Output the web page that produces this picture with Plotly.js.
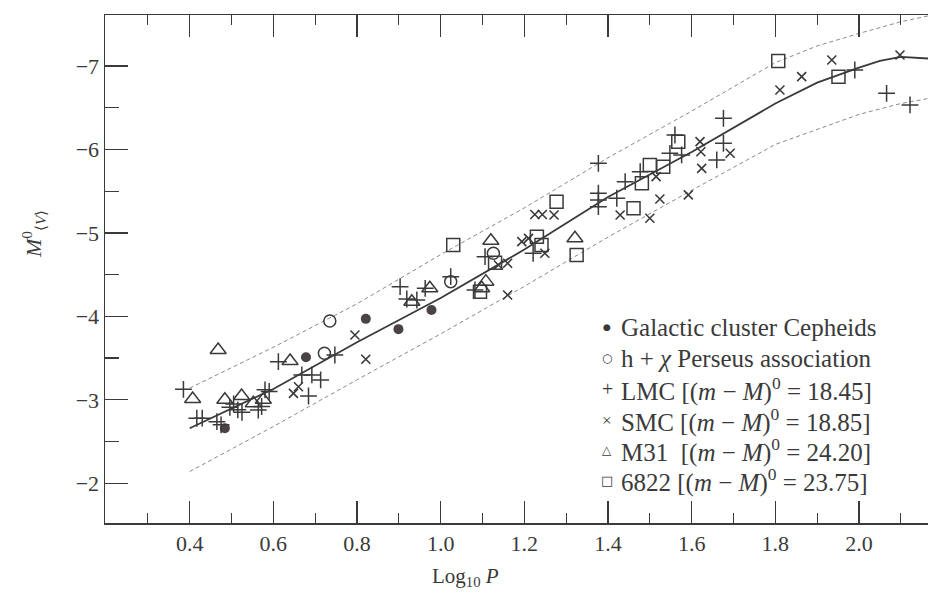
<!DOCTYPE html>
<html>
<head>
<meta charset="utf-8">
<script src="https://cdn.plot.ly/plotly-3.0.1.min.js"></script>
<style>html,body{margin:0;padding:0;background:#fff;}#chart{width:928px;height:593px;}</style>
</head>
<body>
<div id="chart"></div>
<script>
// ---- Axis ticks ----
const xTickVals = [0.4, 0.6, 0.8, 1.0, 1.2, 1.4, 1.6, 1.8, 2.0];
const xTickText = ["0.4", "0.6", "0.8", "1.0", "1.2", "1.4", "1.6", "1.8", "2.0"];
const xMinorVals = [0.3, 0.5, 0.7, 0.9, 1.1, 1.3, 1.5, 1.7, 1.9, 2.1];
const yTickVals = [-2, -3, -4, -5, -6, -7];
const yTickText = ["\u22122", "\u22123", "\u22124", "\u22125", "\u22126", "\u22127"];
const yMinorVals = [-2.5, -3.5, -4.5, -5.5, -6.5];

// ---- Ridge line and envelope ----
const ridgeX = [0.40, 0.60, 0.80, 1.00, 1.20, 1.40, 1.60, 1.80, 1.90, 2.00, 2.05, 2.10, 2.165];
const ridgeY = [-2.66, -3.13, -3.69, -4.22, -4.80, -5.43, -5.97, -6.55, -6.80, -6.98, -7.06, -7.11, -7.09];
const upperX = [0.40, 0.60, 0.80, 1.00, 1.20, 1.40, 1.60, 1.80, 1.90, 2.00, 2.10, 2.165];
const upperY = [-3.14, -3.63, -4.15, -4.74, -5.30, -5.90, -6.46, -7.04, -7.24, -7.39, -7.53, -7.60];
const lowerX = [0.40, 0.60, 0.80, 1.00, 1.20, 1.40, 1.60, 1.80, 1.90, 2.00, 2.10, 2.165];
const lowerY = [-2.14, -2.68, -3.24, -3.79, -4.36, -4.95, -5.51, -6.06, -6.24, -6.42, -6.55, -6.61];

// ---- Galactic cluster Cepheids ----
const galX = [0.484, 0.678, 0.821, 0.899, 0.978];
const galY = [-2.659, -3.510, -3.970, -3.847, -4.076];

// ---- h + chi Perseus association ----
const hpX = [0.722, 0.735, 1.024, 1.126];
const hpY = [-3.558, -3.945, -4.416, -4.756];

// ---- LMC ----
const lmcX = [0.385, 0.417, 0.430, 0.465, 0.475, 0.496, 0.505, 0.515, 0.525, 0.564, 0.572, 0.580, 0.590,
              0.612, 0.668, 0.692, 0.713, 0.684, 0.747, 0.903, 0.919, 0.943, 0.963, 1.024, 1.082, 1.106,
              1.221, 1.377, 1.377, 1.377, 1.377, 1.421, 1.441, 1.477, 1.548, 1.560, 1.576, 1.660, 1.676,
              1.676, 1.990, 2.066, 2.122];
const lmcY = [-3.126, -2.779, -2.780, -2.738, -2.700, -2.910, -2.950, -2.880, -2.850, -2.878, -2.920, -3.120, -3.100,
              -3.457, -3.298, -3.298, -3.238, -3.046, -3.537, -4.356, -4.208, -4.196, -4.336, -4.476, -4.316, -4.715,
              -4.756, -5.834, -5.475, -5.395, -5.314, -5.415, -5.614, -5.734, -5.954, -6.173, -5.934, -5.874, -6.074,
              -6.373, -6.952, -6.673, -6.533];

// ---- SMC ----
const smcX = [0.648, 0.660, 0.795, 0.821, 1.138, 1.160, 1.160, 1.194, 1.210, 1.249, 1.225, 1.243, 1.271,
              1.429, 1.500, 1.515, 1.524, 1.592, 1.620, 1.622, 1.624, 1.692, 1.811, 1.863, 1.935, 2.098];
const smcY = [-3.078, -3.157, -3.777, -3.486, -4.616, -4.636, -4.256, -4.895, -4.935, -4.756, -5.220, -5.220, -5.215,
              -5.215, -5.175, -5.674, -5.406, -5.455, -6.093, -5.973, -5.774, -5.954, -6.712, -6.872, -7.072, -7.132];

// ---- M31 ----
const m31X = [0.407, 0.468, 0.484, 0.524, 0.552, 0.576, 0.640, 0.931, 0.974, 1.098, 1.108, 1.120, 1.321];
const m31Y = [-3.010, -3.597, -3.000, -3.046, -2.958, -3.000, -3.465, -4.176, -4.336, -4.336, -4.416, -4.907, -4.936];

// ---- NGC 6822 ----
const n6822X = [1.030, 1.094, 1.130, 1.230, 1.241, 1.277, 1.325, 1.461, 1.481, 1.500, 1.532, 1.568, 1.807, 1.951];
const n6822Y = [-4.855, -4.296, -4.643, -4.955, -4.855, -5.374, -4.735, -5.295, -5.594, -5.814, -5.794, -6.093, -7.060, -6.872];

// ---- Legend labels ----
const legendGlyphs = ["\u25CF", "\u25CB", "+", "\u00D7", "\u25B3", "\u25A1"];
const legendLabels = [
  "Galactic cluster Cepheids",
  "h + <i>\u03C7</i> Perseus association",
  "LMC [(<i>m</i> \u2212 <i>M</i>)<sup>0</sup> = 18.45]",
  "SMC [(<i>m</i> \u2212 <i>M</i>)<sup>0</sup> = 18.85]",
  "M31  [(<i>m</i> \u2212 <i>M</i>)<sup>0</sup> = 24.20]",
  "6822 [(<i>m</i> \u2212 <i>M</i>)<sup>0</sup> = 23.75]"
];

const ink = "#3a3a3a";
const serif = "Liberation Serif, Times New Roman, serif";

const traces = [
  {x: upperX, y: upperY, mode: "lines", line: {color: "#8a8a8a", width: 1, dash: "4px,3px"}, hoverinfo: "skip"},
  {x: lowerX, y: lowerY, mode: "lines", line: {color: "#8a8a8a", width: 1, dash: "4px,3px"}, hoverinfo: "skip"},
  {x: ridgeX, y: ridgeY, mode: "lines", line: {color: ink, width: 1.8}, hoverinfo: "skip"},
  {x: galX, y: galY, mode: "markers", marker: {symbol: "circle", size: 10, color: "#4a4246"}},
  {x: hpX, y: hpY, mode: "markers", marker: {symbol: "circle-open", size: 12, color: ink, line: {width: 1.5, color: ink}}},
  {x: lmcX, y: lmcY, mode: "markers", marker: {symbol: "cross-thin-open", size: 12, color: ink, line: {width: 1.5, color: ink}}},
  {x: smcX, y: smcY, mode: "markers", marker: {symbol: "x-thin-open", size: 9, color: ink, line: {width: 1.6, color: ink}}},
  {x: m31X, y: m31Y, mode: "markers", marker: {symbol: "triangle-up-open", size: 14, color: ink, line: {width: 1.5, color: ink}}},
  {x: n6822X, y: n6822Y, mode: "markers", marker: {symbol: "square-open", size: 13, color: ink, line: {width: 1.5, color: ink}}}
];

const L = 105, T = 15, W = 823, H = 508;
const px = v => (v - L) / W;
const py = v => (T + H - v) / H;

const annotations = [];
const rowY = [327, 358, 389, 420, 450, 480];
const glyphSize = [9, 12, 20, 17, 12, 13];
const glyphFont = ["DejaVu Sans", "DejaVu Sans", serif, serif, "DejaVu Sans", "DejaVu Sans"];
legendLabels.forEach((t, i) => {
  annotations.push({xref: "paper", yref: "paper", x: px(607), y: py(rowY[i]), xanchor: "center", yanchor: "middle",
    text: legendGlyphs[i], showarrow: false, font: {family: glyphFont[i], size: glyphSize[i], color: ink}});
  annotations.push({xref: "paper", yref: "paper", x: px(619), y: py(rowY[i]), xanchor: "left", yanchor: "middle",
    text: t, showarrow: false, font: {family: serif, size: 25, color: ink}});
});
annotations.push({xref: "paper", yref: "paper", x: px(33), y: py(234), xanchor: "center", yanchor: "middle",
  textangle: -90, text: "<i>M</i><sup>0</sup><sub>\u27E8<i>V</i>\u27E9</sub>", showarrow: false,
  font: {family: serif, size: 22, color: ink}});
annotations.push({xref: "paper", yref: "paper", x: px(465), y: py(577), xanchor: "center", yanchor: "middle",
  text: "Log<sub>10</sub> <i>P</i>", showarrow: false, font: {family: serif, size: 21, color: ink}});

const layout = {
  width: 928, height: 593,
  margin: {l: L, r: 0, t: T, b: 593 - T - H, pad: 0},
  paper_bgcolor: "#ffffff", plot_bgcolor: "#ffffff",
  showlegend: false,
  font: {family: serif, size: 21, color: ink},
  xaxis: {
    range: [0.1975, 2.165], tickmode: "array", tickvals: xTickVals, ticktext: xTickText,
    ticks: "inside", ticklen: 22, tickwidth: 1.3, tickcolor: ink,
    showline: true, linecolor: ink, linewidth: 1.5, mirror: "ticks",
    showgrid: false, zeroline: false,
    tickfont: {family: serif, size: 22, color: ink},
    minor: {tickmode: "array", tickvals: xMinorVals, ticks: "inside", ticklen: 10, tickwidth: 1.2, tickcolor: ink, showgrid: false}
  },
  yaxis: {
    range: [-1.524, -7.611], tickmode: "array", tickvals: yTickVals, ticktext: yTickText,
    ticks: "inside", ticklen: 23, tickwidth: 1.3, tickcolor: ink,
    showline: true, linecolor: ink, linewidth: 1.5, mirror: false,
    showgrid: false, zeroline: false,
    tickfont: {family: serif, size: 22, color: ink},
    minor: {tickmode: "array", tickvals: yMinorVals, ticks: "inside", ticklen: 14, tickwidth: 1.2, tickcolor: ink, showgrid: false}
  },
  annotations: annotations
};

Plotly.newPlot("chart", traces, layout, {staticPlot: true, displayModeBar: false});
</script>
</body>
</html>
